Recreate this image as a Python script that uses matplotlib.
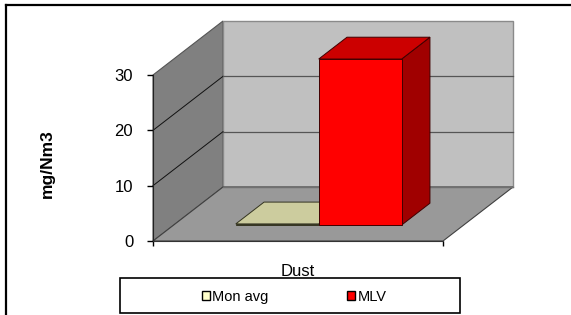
import matplotlib
matplotlib.use("Agg")
import matplotlib.pyplot as plt
from matplotlib.patches import Polygon, Rectangle, Patch
from matplotlib.lines import Line2D

plt.rcParams['font.family'] = ['Liberation Sans', 'DejaVu Sans']

categories = ['Dust']
series = ['Mon avg', 'MLV']
values = [0.2, 30]
yticks = [0, 10, 20, 30]

front_colors = ['#FFFFCC', '#FF0000']
top_colors = ['#CCCC9E', '#CC0000']
side_colors = ['#B0B08A', '#A00000']
edge_colors = ['#333320', '#400000']

W, H = 571, 315
fig = plt.figure(figsize=(W / 100, H / 100), dpi=100)

# front plane of the 3D box in pixels
px0, px1, py0, py1 = 153, 443, 241, 75
ax = fig.add_axes([px0 / W, (H - py0) / H, (px1 - px0) / W, (py0 - py1) / H])
ax.set_xlim(-0.5, 0.5)
ax.set_ylim(0, 30)

# depth offset in data units
ddx = 70 / (px1 - px0)
ddy = 54 / ((py0 - py1) / 30)
ymax = 30
x0, x1 = -0.5, 0.5

def P(pts, fc, ec, lw=0.8, z=1):
    ax.add_patch(Polygon(pts, closed=True, facecolor=fc, edgecolor=ec,
                         linewidth=lw, clip_on=False, zorder=z))

# left wall
P([(x0, 0), (x0, ymax), (x0 + ddx, ymax + ddy), (x0 + ddx, ddy)], '#808080', '#555555', 0.8, 1)
# back wall
P([(x0 + ddx, ddy), (x1 + ddx, ddy), (x1 + ddx, ymax + ddy), (x0 + ddx, ymax + ddy)], '#C0C0C0', '#8A8A8A', 1.0, 1)
# floor
P([(x0, 0), (x1, 0), (x1 + ddx, ddy), (x0 + ddx, ddy)], '#999999', '#404040', 0.8, 1.5)

# gridlines
for v in yticks[1:-1]:
    ax.plot([x0, x0 + ddx], [v, v + ddy], color='#111111', lw=0.7, clip_on=False, zorder=2)
    ax.plot([x0 + ddx, x1 + ddx], [v + ddy, v + ddy], color='#555555', lw=0.9,
            clip_on=False, zorder=2)
ax.plot([x0 + ddx, x1 + ddx], [ddy, ddy], color='#707070', lw=1.0, clip_on=False, zorder=2)

# bars
group = 0.572
bw = group / len(series)
f1, f2 = 0.296, 0.70
for i, (s, v) in enumerate(zip(series, values)):
    bx0 = -group / 2 + i * bw
    bx1 = bx0 + bw
    fx0, fx1, fy = bx0 + f1 * ddx, bx1 + f1 * ddx, f1 * ddy
    gx0, gx1, gy = bx0 + f2 * ddx, bx1 + f2 * ddx, f2 * ddy
    z = 3 + i
    # side face
    P([(fx1, fy), (gx1, gy), (gx1, gy + v), (fx1, fy + v)], side_colors[i], edge_colors[i], 0.7, z)
    # top face
    P([(fx0, fy + v), (fx1, fy + v), (gx1, gy + v), (gx0, gy + v)], top_colors[i], edge_colors[i], 0.7, z)
    # front face
    P([(fx0, fy), (fx1, fy), (fx1, fy + v), (fx0, fy + v)], front_colors[i], edge_colors[i], 0.7, z)

# axes styling
for sp in ['top', 'right']:
    ax.spines[sp].set_visible(False)
ax.spines['left'].set_color('#222222')
ax.spines['left'].set_linewidth(0.8)
ax.spines['bottom'].set_color('#333333')
ax.spines['bottom'].set_linewidth(0.8)
ax.spines['left'].set_zorder(2)
ax.spines['bottom'].set_zorder(2)
ax.patch.set_visible(False)
ax.set_yticks(yticks)
ax.tick_params(axis='y', direction='out', length=4.3, width=1.0, pad=10, labelsize=12)
ax.set_xticks([x0, x1])
ax.set_xticklabels(['', ''])
ax.tick_params(axis='x', which='major', direction='out', length=3.5, width=1.0)
ax.set_xticks([0], minor=True)
ax.set_xticklabels(categories, minor=True)
ax.tick_params(axis='x', which='minor', length=0, pad=16.5, labelsize=12)

ax.text((47 - px0) / (px1 - px0), (py0 - 164) / (py0 - py1), 'mg/Nm3', rotation=90,
        ha='center', va='center', fontsize=12.5, fontweight='bold', transform=ax.transAxes)

# legend
fig.add_artist(Rectangle((120 / W, (H - 313) / H), 340 / W, 35 / H, transform=fig.transFigure,
                         facecolor='white', edgecolor='black', linewidth=1.2))
handles = [Patch(facecolor=c, edgecolor='black', linewidth=1.0) for c in front_colors]
fig.legend(handles, series, loc='center', bbox_to_anchor=(294 / W, 1 - 297 / H), ncol=2,
           frameon=False, fontsize=10.5, handlelength=0.55, handleheight=0.6,
           handletextpad=0.15, columnspacing=5.4, borderpad=0, borderaxespad=0)

# outer frame
fig.add_artist(Line2D([6 / W, 6 / W], [0, 1 - 5 / H], transform=fig.transFigure, color='black', lw=1.6))
fig.add_artist(Line2D([6 / W, 1], [1 - 5 / H, 1 - 5 / H], transform=fig.transFigure, color='black', lw=1.6))

fig.savefig('out.png', dpi=100)
